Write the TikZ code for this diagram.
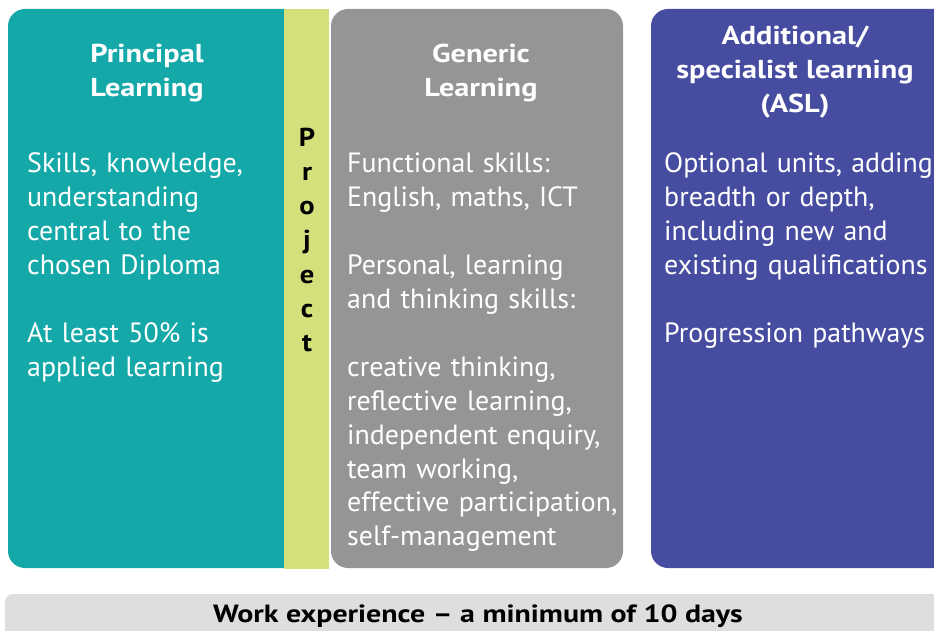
\documentclass[tikz,border=0pt]{standalone}
\usepackage{fontspec}
\setmainfont{PT Sans}
\usepackage{tikz}
\definecolor{bleuvert}{RGB}{21,168,168}
\definecolor{vertprojet}{RGB}{212,224,124}
\definecolor{grisgen}{RGB}{149,149,149}
\definecolor{bleuasl}{RGB}{70,76,159}
\definecolor{grisstage}{RGB}{223,221,223}
\begin{document}
\begin{tikzpicture}[x=1bp,y=-1bp]
% définition des paramètres
\tikzstyle titrebloc=[font=\bfseries\fontsize{26}{34}\selectfont\addfontfeatures{FakeStretch=1.17},text=white,align=center,text width=300bp,inner sep=0pt,anchor=base]
\tikzstyle textebloc=[font=\fontsize{28}{34}\selectfont,text=white,align=left,text width=300bp,inner sep=0pt,anchor=base west]
\tikzstyle lettreprojet=[font=\bfseries\fontsize{26}{34}\selectfont\addfontfeatures{FakeStretch=1.1},text=black,inner sep=0pt,anchor=base]
\newcommand{\blochaut}{9}   % haut des trois blocs
\newcommand{\blocbas}{568}  % bas des trois blocs
\newcommand{\premligne}{173} % ligne de base du premier texte
% le cadre
\useasboundingbox (0,0) rectangle (934,631);
\clip (0,0) rectangle (934,631);
% les blocs
\fill[bleuvert,rounded corners=17bp] (300,\blochaut) -- (8,\blochaut) -- (8,\blocbas) -- (300,\blocbas) -- cycle;
\fill[vertprojet] (284,\blochaut) rectangle (329,\blocbas+1);
\fill[grisgen,rounded corners=17bp] (331,\blochaut) rectangle (623,\blocbas);
\fill[bleuasl,rounded corners=17bp] (651,\blochaut) rectangle (990,\blocbas);
\fill[grisstage,rounded corners=8bp] (5,594) rectangle (990,680);
% les titres
\node[titrebloc] (pltitre) at (147,63) {Principal\\Learning};
\node[titrebloc] (gltitre) at (481,63) {Generic\\Learning};
\node[titrebloc] (asltitre) at (795,45) {Additional/\\specialist learning\\(ASL)};
% les textes
\node[textebloc] (plcorps) at (27,\premligne) {Skills, knowledge,\\understanding\\central to the\\chosen Diploma\\[34bp]At least 50\% is\\applied learning};
\node[textebloc] (glcorps) at (347,\premligne) {Functional skills:\\English, maths, ICT\\[34bp]Personal, learning\\and thinking skills:\\[34bp]creative thinking,\\reflective learning,\\independent enquiry,\\team working,\\effective participation,\\self-management};
\node[textebloc] (aslcorps) at (664,\premligne) {Optional units, adding\\breadth or depth,\\including new and\\existing qualifications\\[34bp]Progression pathways};
% le projet
\foreach \lettre [count=\i] in {P,r,o,j,e,c,t}
    \node[lettreprojet] (projet\i) at (307,{147+34*(\i-1)}) {\lettre};
% le stage
\node[font=\bfseries\fontsize{25}{30}\selectfont\addfontfeatures{FakeStretch=1.2},inner sep=0pt,anchor=base] (stage) at (478,622) {Work experience -- a minimum of 10 days};
\end{tikzpicture}
\end{document}
